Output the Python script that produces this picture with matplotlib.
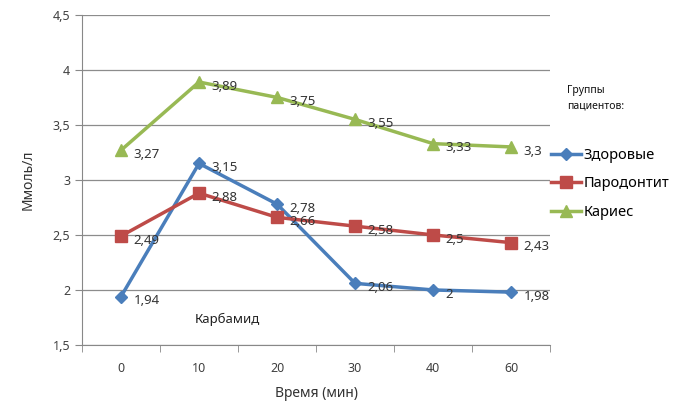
import matplotlib
matplotlib.use('Agg')
import matplotlib.pyplot as plt
from matplotlib.ticker import FixedLocator

plt.rcParams['font.family'] = ['Noto Sans', 'DejaVu Sans']

# данные
times = ['0', '10', '20', '30', '40', '60']
zdorovye = [1.94, 3.15, 2.78, 2.06, 2.0, 1.98]
parodontit = [2.49, 2.88, 2.66, 2.58, 2.5, 2.43]
karies = [3.27, 3.89, 3.75, 3.55, 3.33, 3.3]
names = ['Здоровые', 'Пародонтит', 'Кариес']
colors = ['#4A7EBB', '#BE4B48', '#98B954']
markers = ['D', 's', '^']
msizes = [6, 8, 8]

def fmt(v):
    s = ('%.2f' % v).rstrip('0').rstrip('.')
    return s.replace('.', ',')

fig = plt.figure(figsize=(6.75, 4.03), dpi=100)
ax = fig.add_axes([0.1215, 0.144, 0.6935, 0.819])

x = list(range(len(times)))
for data, name, c, m, ms in zip([zdorovye, parodontit, karies], names, colors, markers, msizes):
    ax.plot(x, data, color=c, lw=2.5, marker=m, markersize=ms, label=name, zorder=3)
    for xi, v in zip(x, data):
        ax.annotate(fmt(v), (xi, v), xytext=(9, -3), textcoords='offset points',
                    ha='left', va='center', fontsize=9.5, color='#333333', zorder=4)

ax.set_xlim(-0.5, 5.5)
ax.set_ylim(1.5, 4.5)
ax.set_xticks(x)
ax.set_xticklabels(times)
ax.xaxis.set_minor_locator(FixedLocator([i - 0.5 for i in range(len(times) + 1)]))
ax.tick_params(axis='x', which='major', length=0, pad=12, labelsize=9, colors='#404040')
ax.tick_params(axis='x', which='minor', length=5, color='#888888')
yt = [1.5, 2, 2.5, 3, 3.5, 4, 4.5]
ax.set_yticks(yt)
ax.set_yticklabels([fmt(v) for v in yt])
ax.tick_params(axis='y', length=5, color='#888888', labelsize=9, colors='#404040')
ax.grid(axis='y', color='#8c8c8c', lw=0.9)
ax.set_axisbelow(True)
for sp in ['top', 'right']:
    ax.spines[sp].set_visible(False)
for sp in ['left', 'bottom']:
    ax.spines[sp].set_color('#888888')

ax.set_ylabel('Ммоль/л', fontsize=10, color='#333333', labelpad=12)
ax.set_xlabel('Время (мин)', fontsize=10, color='#333333', labelpad=8)
ax.text(1.36, 1.73, 'Карбамид', ha='center', va='center', fontsize=9.5, color='#222222')

fig.text(0.84, 0.789, 'Группы\nпациентов:', ha='left', va='top', fontsize=7.5,
         color='#111111', linespacing=1.5)
fig.legend(loc='upper left', bbox_to_anchor=(0.816, 0.633), frameon=False,
           fontsize=10.5, labelspacing=0.92, handlelength=2.1, handletextpad=0.15,
           borderpad=0, borderaxespad=0)

fig.savefig('out.png', dpi=100)
